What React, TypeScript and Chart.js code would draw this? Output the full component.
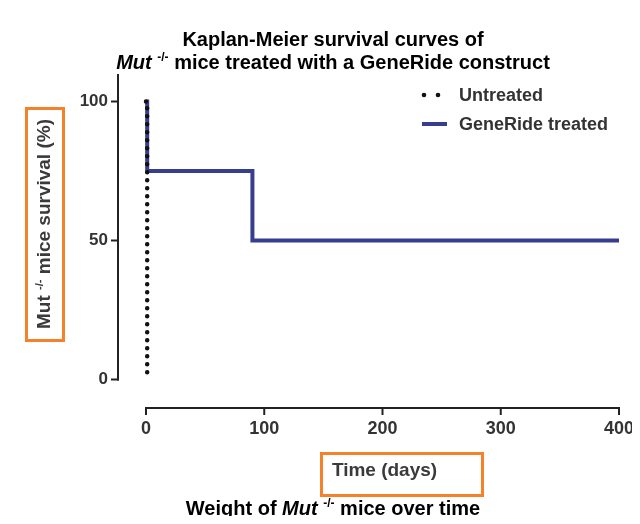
import React, { useEffect, useRef } from "react";
import { Chart, registerables } from "chart.js";

Chart.register(...registerables);

// ---- data ----
const seriesNames = ["Untreated", "GeneRide treated"];
const untreatedDays = [0, 1];
const untreatedSurvival = [100, 0];
const treatedDays = [0, 1, 90, 400];
const treatedSurvival = [100, 75, 50, 50];
const xTickValues = [0, 100, 200, 300, 400];
const yTickValues = [0, 50, 100];

const FONT = '"Liberation Sans", Arial, Helvetica, sans-serif';
const BLUE = "#373e8f";
const ORANGE = "#f5822a";
const AXIS = "#222222";
const TXT = "#333333";

type Seg = { t: string; f: string; dy?: number };

function richWidth(ctx: CanvasRenderingContext2D, segs: Seg[]) {
  let w = 0;
  for (const s of segs) {
    ctx.font = s.f;
    w += ctx.measureText(s.t).width;
  }
  return w;
}

function drawRich(ctx: CanvasRenderingContext2D, segs: Seg[], cx: number, y: number, color: string) {
  const w = richWidth(ctx, segs);
  let x = cx - w / 2;
  ctx.textAlign = "left";
  ctx.textBaseline = "middle";
  ctx.fillStyle = color;
  for (const s of segs) {
    ctx.font = s.f;
    ctx.fillText(s.t, x, y + (s.dy || 0));
    x += ctx.measureText(s.t).width;
  }
}

const decorPlugin = {
  id: "decor",
  afterDraw(chart: any) {
    const ctx: CanvasRenderingContext2D = chart.ctx;
    const xs = chart.scales.x;
    const ys = chart.scales.y;
    ctx.save();

    // titles
    const big = `bold 20px ${FONT}`;
    const bigI = `italic bold 20px ${FONT}`;
    const sup = `bold 12px ${FONT}`;
    drawRich(ctx, [{ t: "Kaplan-Meier survival curves of", f: big }], 325, 32, "#000");
    drawRich(
      ctx,
      [
        { t: "Mut", f: bigI },
        { t: " ", f: big },
        { t: "-/-", f: sup, dy: -5 },
        { t: " mice treated with a GeneRide construct", f: big },
      ],
      325,
      55,
      "#000"
    );
    drawRich(
      ctx,
      [
        { t: "Weight of ", f: big },
        { t: "Mut", f: bigI },
        { t: " ", f: big },
        { t: "-/-", f: sup, dy: -5 },
        { t: " mice over time", f: big },
      ],
      325,
      501,
      "#000"
    );

    // y axis line + ticks
    ctx.strokeStyle = AXIS;
    ctx.lineWidth = 2;
    const yAxisX = 110;
    const y0 = ys.getPixelForValue(0);
    ctx.beginPath();
    ctx.moveTo(yAxisX, 66);
    ctx.lineTo(yAxisX, y0 + 1);
    ctx.stroke();
    for (const v of yTickValues) {
      const py = ys.getPixelForValue(v);
      ctx.beginPath();
      ctx.moveTo(yAxisX - 7, py);
      ctx.lineTo(yAxisX + 1, py);
      ctx.stroke();
    }

    // x axis line + ticks
    const xAxisY = 400;
    const xa = xs.getPixelForValue(xTickValues[0]);
    const xb = xs.getPixelForValue(xTickValues[xTickValues.length - 1]);
    ctx.beginPath();
    ctx.moveTo(xa - 1, xAxisY);
    ctx.lineTo(xb + 1, xAxisY);
    ctx.stroke();
    for (const v of xTickValues) {
      const px = xs.getPixelForValue(v);
      ctx.beginPath();
      ctx.moveTo(px, xAxisY - 1);
      ctx.lineTo(px, xAxisY + 7);
      ctx.stroke();
    }

    // y axis title (rotated) with box
    const tf = `bold 19px ${FONT}`;
    const tsup = `bold 11px ${FONT}`;
    ctx.save();
    ctx.translate(37, 216);
    ctx.rotate(-Math.PI / 2);
    drawRich(
      ctx,
      [
        { t: "Mut ", f: tf },
        { t: "-/-", f: tsup, dy: -5 },
        { t: " mice survival (%)", f: tf },
      ],
      0,
      0,
      "#3a3a3a"
    );
    ctx.restore();
    ctx.strokeStyle = ORANGE;
    ctx.lineWidth = 3;
    ctx.strokeRect(18.5, 100.5, 37, 232);

    // x axis title with box
    drawRich(ctx, [{ t: "Time (days)", f: tf }], 376.5, 463, "#3a3a3a");
    ctx.strokeRect(313.5, 445.5, 161, 42);

    // legend
    const lf = `bold 18px ${FONT}`;
    ctx.fillStyle = "#111";
    for (const dx of [416, 430]) {
      ctx.beginPath();
      ctx.arc(dx, 87, 2.3, 0, Math.PI * 2);
      ctx.fill();
    }
    ctx.strokeStyle = BLUE;
    ctx.lineWidth = 4;
    ctx.beginPath();
    ctx.moveTo(414, 116);
    ctx.lineTo(439, 116);
    ctx.stroke();
    ctx.font = lf;
    ctx.fillStyle = TXT;
    ctx.textAlign = "left";
    ctx.textBaseline = "middle";
    ctx.fillText(seriesNames[0], 451, 88.5);
    ctx.fillText(seriesNames[1], 451, 117.5);

    ctx.restore();
  },
};

export default function App() {
  const ref = useRef<HTMLCanvasElement | null>(null);

  useEffect(() => {
    if (!ref.current) return;
    const chart = new Chart(ref.current, {
      type: "line",
      data: {
        datasets: [
          {
            label: seriesNames[0],
            data: untreatedDays.map((d, i) => ({ x: d, y: untreatedSurvival[i] })),
            stepped: "before",
            borderColor: "#111",
            borderWidth: 4.5,
            borderDash: [0, 8],
            borderCapStyle: "round",
            pointRadius: 0,
            fill: false,
            clip: false,
          } as any,
          {
            label: seriesNames[1],
            data: treatedDays.map((d, i) => ({ x: d, y: treatedSurvival[i] })),
            stepped: "before",
            borderColor: BLUE,
            borderWidth: 4,
            borderCapStyle: "butt",
            borderJoinStyle: "miter",
            pointRadius: 0,
            fill: false,
            clip: false,
          } as any,
        ],
      },
      options: {
        responsive: false,
        animation: false,
        layout: { padding: { top: 93.5, right: 13, left: 0, bottom: 0 } },
        plugins: {
          legend: { display: false },
          title: { display: false },
          tooltip: { enabled: false },
        },
        scales: {
          x: {
            type: "linear",
            min: 0,
            max: 400,
            afterBuildTicks: (s: any) => {
              s.ticks = xTickValues.map((v) => ({ value: v }));
            },
            afterFit: (s: any) => {
              s.height = 136.5;
              s.paddingLeft = 0;
              s.paddingRight = 0;
            },
            grid: { display: false, drawTicks: false },
            border: { display: false },
            ticks: {
              padding: 38.5,
              color: TXT,
              font: { family: FONT, size: 18, weight: "bold" },
              maxRotation: 0,
            },
          },
          y: {
            type: "linear",
            min: 0,
            max: 100,
            afterBuildTicks: (s: any) => {
              s.ticks = yTickValues.map((v) => ({ value: v }));
            },
            afterFit: (s: any) => {
              s.width = 138;
              s.paddingTop = 0;
              s.paddingBottom = 0;
            },
            grid: { display: false, drawTicks: false },
            border: { display: false },
            ticks: {
              padding: 38,
              color: TXT,
              font: { family: FONT, size: 17, weight: "bold" },
            },
          },
        },
      } as any,
      plugins: [decorPlugin],
    });
    return () => chart.destroy();
  }, []);

  return (
    <div style={{ width: 624, height: 508 }}>
      <canvas ref={ref} width={624} height={508} style={{ display: "block" }} />
    </div>
  );
}
